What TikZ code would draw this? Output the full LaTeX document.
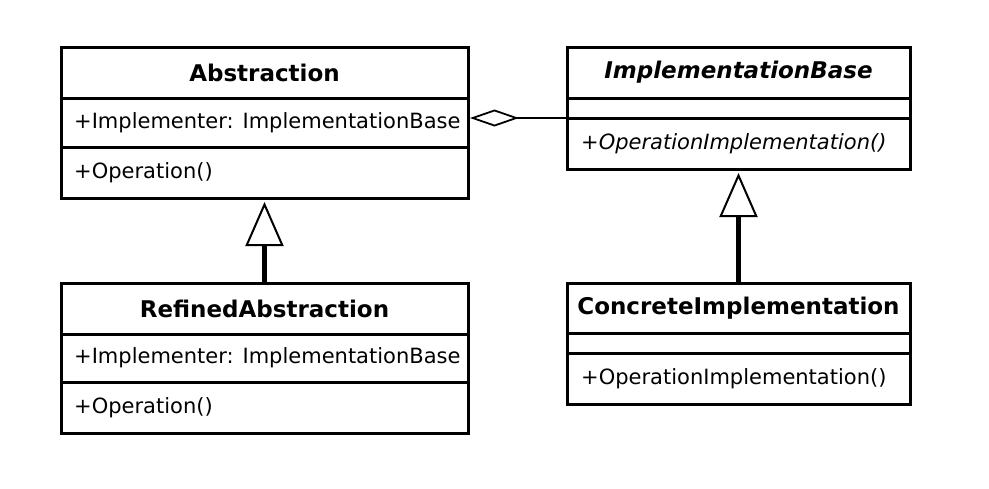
\documentclass[tikz,border=0pt]{standalone}
\usepackage{fontspec}
\setmainfont{DejaVu Sans}
\usetikzlibrary{arrows.meta}
\begin{document}
\begin{tikzpicture}[x=1pt,y=-1pt,
  comp/.style={draw, line width=3pt, outer sep=0pt, inner sep=0pt, anchor=north west},
  lw/.style={minimum width=407pt},
  rw/.style={minimum width=343pt},
  head/.style={font=\fontsize{23}{27}\selectfont\bfseries},
  member/.style={anchor=west, inner sep=0pt, font=\fontsize{21}{25}\selectfont},
  inherit/.style={line width=4.2pt, -{Triangle[open, length=44pt, width=38pt, line width=2pt]}, shorten >=4pt},
  agg/.style={line width=1.8pt, -{Diamond[open, length=49pt, width=17pt, line width=1.8pt]}, shorten >=2pt}]
\useasboundingbox (0,0) rectangle (989,488);

% Abstraction
\node[comp,lw,minimum height=51pt,head] (abs1) at (61,47) {Abstraction};
\node[comp,lw,minimum height=49pt] (abs2) at (61,98) {};
\node[comp,lw,minimum height=51pt] (abs3) at (61,147) {};
\node[member] (absAttr) at ([xshift=13pt]abs2.west) {+Implementer: ImplementationBase};
\node[member] (absOp) at ([xshift=13pt]abs3.west) {+Operation()};

% ImplementationBase
\node[comp,rw,minimum height=51pt,head,font=\fontsize{23}{27}\selectfont\bfseries\itshape] (impl1) at (567,47) {ImplementationBase};
\node[comp,rw,minimum height=20pt] (impl2) at (567,98) {};
\node[comp,rw,minimum height=51pt] (impl3) at (567,118) {};
\node[member,font=\fontsize{21}{25}\selectfont\itshape] (implOp) at ([xshift=14pt]impl3.west) {+OperationImplementation()};

% RefinedAbstraction
\node[comp,lw,minimum height=51pt,head] (ref1) at (61,283) {RefinedAbstraction};
\node[comp,lw,minimum height=48pt] (ref2) at (61,334) {};
\node[comp,lw,minimum height=51pt] (ref3) at (61,382) {};
\node[member] (refAttr) at ([xshift=13pt]ref2.west) {+Implementer: ImplementationBase};
\node[member] (refOp) at ([xshift=13pt]ref3.west) {+Operation()};

% ConcreteImplementation
\node[comp,rw,minimum height=50pt,head] (con1) at (567,283) {ConcreteImplementation};
\node[comp,rw,minimum height=20pt] (con2) at (567,333) {};
\node[comp,rw,minimum height=51pt] (con3) at (567,353) {};
\node[member] (conOp) at ([xshift=14pt]con3.west) {+OperationImplementation()};

% connectors
\draw[inherit] (ref1.north) -- (abs3.south);
\draw[inherit] (con1.north) -- (impl3.south);
\draw[agg] (impl2.south west) -- (impl2.south west -| abs2.east);
\end{tikzpicture}
\end{document}
